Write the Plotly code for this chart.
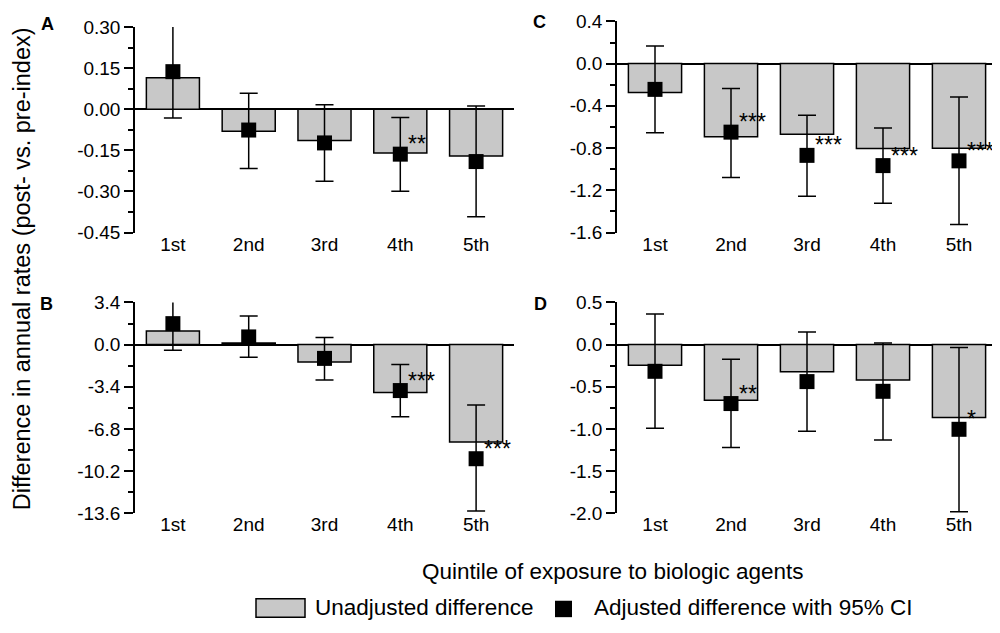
import numpy as np
import plotly.graph_objects as go

# ---------------- data ----------------
categories = ["1st", "2nd", "3rd", "4th", "5th"]

# Panel A
A_unadj = [0.115, -0.080, -0.114, -0.160, -0.171]
A_adj = [0.137, -0.076, -0.123, -0.164, -0.191]
A_lo = [-0.032, -0.216, -0.263, -0.299, -0.392]
A_hi = [0.311, 0.058, 0.016, -0.030, 0.012]
A_stars = ["", "", "", "**", ""]
A_ticks = [0.30, 0.15, 0.00, -0.15, -0.30, -0.45]

# Panel B
B_unadj = [1.09, 0.13, -1.40, -3.86, -7.85]
B_adj = [1.69, 0.62, -1.11, -3.70, -9.19]
B_lo = [-0.45, -1.01, -2.85, -5.80, -13.41]
B_hi = [3.89, 2.31, 0.57, -1.60, -4.87]
B_stars = ["", "", "", "***", "***"]
B_ticks = [3.4, 0.0, -3.4, -6.8, -10.2, -13.6]

# Panel C
C_unadj = [-0.274, -0.692, -0.670, -0.805, -0.802]
C_adj = [-0.244, -0.649, -0.869, -0.966, -0.921]
C_lo = [-0.655, -1.079, -1.256, -1.323, -1.524]
C_hi = [0.167, -0.235, -0.488, -0.610, -0.317]
C_stars = ["", "***", "***", "***", "***"]
C_ticks = [0.4, 0.0, -0.4, -0.8, -1.2, -1.6]

# Panel D
D_unadj = [-0.244, -0.659, -0.320, -0.419, -0.862]
D_adj = [-0.316, -0.698, -0.438, -0.553, -1.003]
D_lo = [-0.991, -1.220, -1.026, -1.129, -1.980]
D_hi = [0.363, -0.172, 0.149, 0.020, -0.034]
D_stars = ["", "**", "", "", "*"]
D_ticks = [0.5, 0.0, -0.5, -1.0, -1.5, -2.0]

y_title = "Difference in annual rates (post- vs. pre-index)"
x_title = "Quintile of exposure to biologic agents"
legend_bar = "Unadjusted difference"
legend_marker = "Adjusted difference with 95% CI"

# ---------------- style ----------------
FONT = "Liberation Sans"
BAR_COLOR = "#c8c8c8"
OFF = 8                       # default page margin of the html body
W, H = 1000 - OFF, 633 - OFF  # figure size so it fills the window


def px_x(p):
    return (p - OFF) / W


def px_y(p):
    return 1 - (p - OFF) / H


panels = [
    ("A", "", A_unadj, A_adj, A_lo, A_hi, A_stars, A_ticks, ".2f", (135, 514), (17.3, 230.0), (47, 14)),
    ("C", "2", C_unadj, C_adj, C_lo, C_hi, C_stars, C_ticks, ".1f", (617, 997), (11.5, 230.0), (539, 12.5)),
    ("B", "3", B_unadj, B_adj, B_lo, B_hi, B_stars, B_ticks, ".1f", (135, 514), (302.3, 520.7), (46, 303.5)),
    ("D", "4", D_unadj, D_adj, D_lo, D_hi, D_stars, D_ticks, ".1f", (617, 997), (302.3, 520.7), (540, 303.5)),
]

fig = go.Figure()
annotations = []
layout_axes = {}

for (lab, sfx, unadj, adj, lo, hi, stars, ticks, fmt, xd, yd, lpos) in panels:
    xa = "x" + sfx
    ya = "y" + sfx
    adj_a = np.array(adj)
    err_plus = np.array(hi) - adj_a
    err_minus = adj_a - np.array(lo)

    fig.add_trace(go.Bar(
        x=categories, y=unadj, xaxis=xa, yaxis=ya,
        width=0.70, marker=dict(color=BAR_COLOR, line=dict(color="black", width=1.5)),
        showlegend=False, hoverinfo="skip",
    ))
    fig.add_trace(go.Scatter(
        x=categories, y=adj, xaxis=xa, yaxis=ya, mode="markers",
        marker=dict(symbol="square", size=15, color="black"),
        error_y=dict(type="data", symmetric=False, array=err_plus, arrayminus=err_minus,
                     color="black", thickness=1.5, width=9),
        cliponaxis=False, showlegend=False, hoverinfo="skip",
    ))

    for cat, val, st in zip(categories, adj, stars):
        if st:
            annotations.append(dict(
                x=cat, y=val, xref=xa, yref=ya, text=st, showarrow=False,
                xanchor="left", yanchor="middle", xshift=6, yshift=10,
                font=dict(family=FONT, size=23, color="black"),
            ))

    annotations.append(dict(
        x=px_x(lpos[0]), y=px_y(lpos[1]), xref="paper", yref="paper", text="<b>%s</b>" % lab,
        showarrow=False, xanchor="center", yanchor="middle",
        font=dict(family=FONT, size=18, color="black"),
    ))

    ticks_arr = np.array(ticks)
    minor_vals = (ticks_arr[:-1] + ticks_arr[1:]) / 2
    ticktext = [format(v, fmt) for v in ticks]

    xkey = "xaxis" + sfx
    ykey = "yaxis" + sfx
    layout_axes[xkey] = dict(
        domain=[px_x(xd[0]), px_x(xd[1])], anchor=ya, type="category",
        range=[-0.5, 4.5], showline=False, showgrid=False, zeroline=False,
        ticks="", tickfont=dict(family=FONT, size=19, color="black"),
        ticklabelstandoff=-2, fixedrange=True,
    )
    layout_axes[ykey] = dict(
        domain=[px_y(yd[1]), px_y(yd[0])], anchor=xa,
        range=[min(ticks), max(ticks)], showgrid=False,
        showline=True, linecolor="black", linewidth=1.5,
        zeroline=True, zerolinecolor="black", zerolinewidth=1.5,
        tickmode="array", tickvals=ticks, ticktext=ticktext,
        ticks="outside", ticklen=9, tickwidth=1.5, tickcolor="black",
        minor=dict(tickmode="array", tickvals=list(minor_vals), ticks="outside",
                   ticklen=5, tickwidth=1.5, tickcolor="black", showgrid=False),
        tickfont=dict(family=FONT, size=19, color="black"),
        fixedrange=True,
    )

# axis titles
annotations.append(dict(
    x=0, y=px_y(268), xref="paper", yref="paper", text=y_title, textangle=-90,
    showarrow=False, xanchor="left", yanchor="middle", borderpad=0,
    font=dict(family=FONT, size=23.5, color="black"),
))
annotations.append(dict(
    x=px_x(612.5), y=px_y(580.5), xref="paper", yref="paper", text=x_title,
    showarrow=False, xanchor="center", yanchor="middle",
    font=dict(family=FONT, size=22.5, color="black"),
))

# manual legend
annotations.append(dict(
    x=px_x(313), y=px_y(618.5), xref="paper", yref="paper", text=legend_bar,
    showarrow=False, xanchor="left", yanchor="middle",
    font=dict(family=FONT, size=22.5, color="black"),
))
annotations.append(dict(
    x=px_x(592), y=px_y(618.5), xref="paper", yref="paper", text=legend_marker,
    showarrow=False, xanchor="left", yanchor="middle",
    font=dict(family=FONT, size=22.5, color="black"),
))
shapes = [
    dict(type="rect", xref="paper", yref="paper",
         x0=px_x(256), x1=px_x(305), y0=px_y(628), y1=px_y(609),
         fillcolor=BAR_COLOR, line=dict(color="black", width=1.5)),
    dict(type="rect", xref="paper", yref="paper",
         x0=px_x(555), x1=px_x(572), y0=px_y(628), y1=px_y(611),
         fillcolor="black", line=dict(color="black", width=0)),
]

fig.update_layout(
    width=W, height=H,
    margin=dict(l=0, r=0, t=0, b=0),
    paper_bgcolor="white", plot_bgcolor="white",
    font=dict(family=FONT, color="black"),
    annotations=annotations, shapes=shapes,
    barmode="overlay",
    **layout_axes,
)

fig.write_html("out.html")
